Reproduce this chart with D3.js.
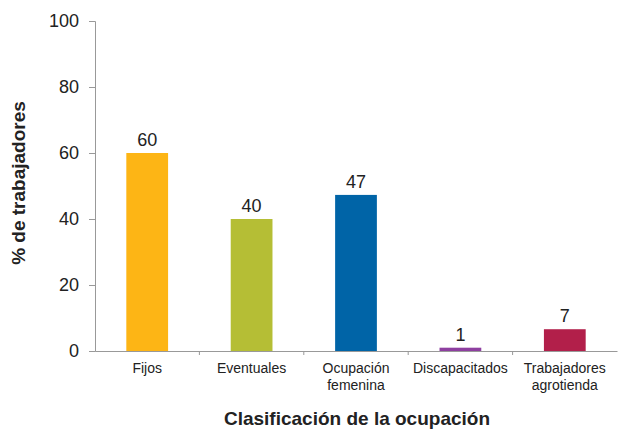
<!DOCTYPE html>
<html><head><meta charset="utf-8">
<script src="https://cdn.jsdelivr.net/npm/d3@7"></script>
<style>body{margin:0;background:#fff}svg{display:block}text{font-family:"Liberation Sans",Arial,Helvetica,sans-serif}</style>
</head><body><svg id="c" width="621" height="433"></svg>
<script>
const categories = [["Fijos"],["Eventuales"],["Ocupación","femenina"],["Discapacitados"],["Trabajadores","agrotienda"]];
const values = [60, 40, 47.3, 1, 6.6];
const labels = ["60","40","47","1","7"];
const colors = ["#FDB515","#B5BE35","#0064A7","#8E3FA0","#B21F4A"];
const yTicks = [0,20,40,60,80,100];

const svg = d3.select("#c");
const m = {l:95, r:4, t:21, b:82};
const W = 621, H = 433;
const x = d3.scaleBand().domain(d3.range(categories.length)).range([m.l, W - m.r]).padding(0);
const y = d3.scaleLinear().domain([0,100]).range([H - m.b, m.t]);
const bw = x.bandwidth()*0.4;

const ya = svg.append("g").attr("transform",`translate(${m.l},0)`)
  .call(d3.axisLeft(y).tickValues(yTicks).tickSize(6).tickPadding(10));
ya.select(".domain").attr("stroke","#999");
ya.selectAll(".tick line").attr("stroke","#999");
ya.selectAll("text").attr("font-size",18).attr("fill","#222");

svg.selectAll("rect.bar").data(values).join("rect").attr("class","bar")
  .attr("x",(d,i)=>x(i)+x.bandwidth()/2-bw/2).attr("width",bw)
  .attr("y",d=>y(d)).attr("height",d=>y(0)-y(d)).attr("fill",(d,i)=>colors[i]);

const xa = svg.append("g").attr("transform",`translate(0,${y(0)})`)
  .call(d3.axisBottom(x).tickValues([]).tickSizeOuter(0));
xa.select(".domain").attr("stroke","#999");
svg.selectAll("line.bt").data(d3.range(1,categories.length)).join("line").attr("class","bt")
  .attr("x1",i=>x(i)).attr("x2",i=>x(i)).attr("y1",y(0)).attr("y2",y(0)+4).attr("stroke","#999");

svg.selectAll("text.vl").data(values).join("text").attr("class","vl")
  .attr("x",(d,i)=>x(i)+x.bandwidth()/2).attr("y",d=>y(d)-7)
  .attr("text-anchor","middle").attr("font-size",18).attr("fill","#222").text((d,i)=>labels[i]);

const cl = svg.selectAll("text.cat").data(categories).join("text").attr("class","cat")
  .attr("x",(d,i)=>x(i)+x.bandwidth()/2).attr("y",y(0)+22)
  .attr("text-anchor","middle").attr("font-size",14).attr("fill","#222");
cl.selectAll("tspan").data(d=>d).join("tspan")
  .attr("x",function(){return this.parentNode.getAttribute("x");})
  .attr("dy",(d,j)=>j===0?0:17).text(d=>d);

svg.append("text").attr("x",357).attr("y",425).attr("text-anchor","middle")
  .attr("font-size",19).attr("font-weight","bold").attr("fill","#222").text("Clasificación de la ocupación");
svg.append("text").attr("transform",`translate(25,${(y(0)+y(100))/2 - 3}) rotate(-90)`).attr("text-anchor","middle")
  .attr("font-size",19).attr("font-weight","bold").attr("fill","#222").text("% de trabajadores");
</script></body></html>
